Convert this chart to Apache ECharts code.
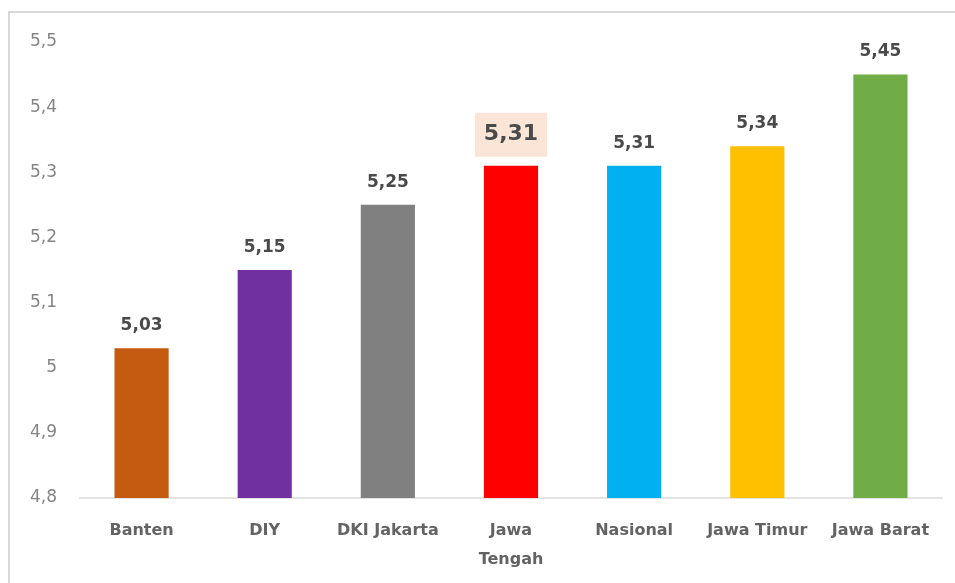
<!DOCTYPE html>
<html><head><meta charset="utf-8">
<script src="https://cdn.jsdelivr.net/npm/echarts@6/dist/echarts.min.js"></script>
<style>html,body{margin:0;padding:0;background:#fff}#c{width:955px;height:583px}</style>
</head><body><div id="c"></div>
<script>
const categories = ['Banten', 'DIY', 'DKI Jakarta', 'Jawa Tengah', 'Nasional', 'Jawa Timur', 'Jawa Barat'];
const values = [5.03, 5.15, 5.25, 5.31, 5.31, 5.34, 5.45];
const barColors = ['#C55A11', '#7030A0', '#808080', '#FF0000', '#00B0F0', '#FFC000', '#70AD47'];
const highlighted = 'Jawa Tengah';
const yTicks = { min: 4.8, max: 5.5, interval: 0.1 };

const font = 'DejaVu Sans';
const fmt = v => String(Math.round(v * 100) / 100).replace('.', ',');

const chart = echarts.init(document.getElementById('c'));
chart.setOption({
  animation: false,
  graphic: [
    { type: 'line', shape: { x1: 8, y1: 12, x2: 955, y2: 12 }, style: { stroke: '#d9d9d9', lineWidth: 2 } },
    { type: 'line', shape: { x1: 9, y1: 12, x2: 9, y2: 583 }, style: { stroke: '#d9d9d9', lineWidth: 2 } }
  ],
  grid: { left: 80, right: 13, top: 42, bottom: 85, containLabel: false },
  xAxis: {
    type: 'category', data: categories,
    axisTick: { show: false },
    axisLine: { lineStyle: { color: '#e3e3e3', width: 2 } },
    axisLabel: {
      interval: 0, hideOverlap: false,
      color: '#636363', fontFamily: font, fontSize: 16, fontWeight: 'bold', margin: 18, lineHeight: 29,
      formatter: v => v === 'Jawa Tengah' ? 'Jawa\nTengah' : v
    }
  },
  yAxis: {
    type: 'value', min: yTicks.min, max: yTicks.max, interval: yTicks.interval,
    splitLine: { show: false },
    axisLine: { show: false }, axisTick: { show: false },
    axisLabel: { color: '#858585', fontFamily: font, fontSize: 17, margin: 23, formatter: fmt }
  },
  series: [{
    type: 'bar', barWidth: '44%',
    data: values.map((v, i) => {
      const d = { value: v, itemStyle: { color: barColors[i] } };
      if (categories[i] === highlighted) {
        d.label = { fontSize: 22, backgroundColor: '#fbe5d6', padding: [11, 9, 11, 9], distance: 9, color: '#4a4a4a' };
      }
      return d;
    }),
    label: {
      show: true, position: 'top', distance: 14,
      color: '#4a4a4a', fontFamily: font, fontSize: 17, fontWeight: 'bold',
      formatter: p => fmt(p.value)
    }
  }]
});
</script></body></html>
